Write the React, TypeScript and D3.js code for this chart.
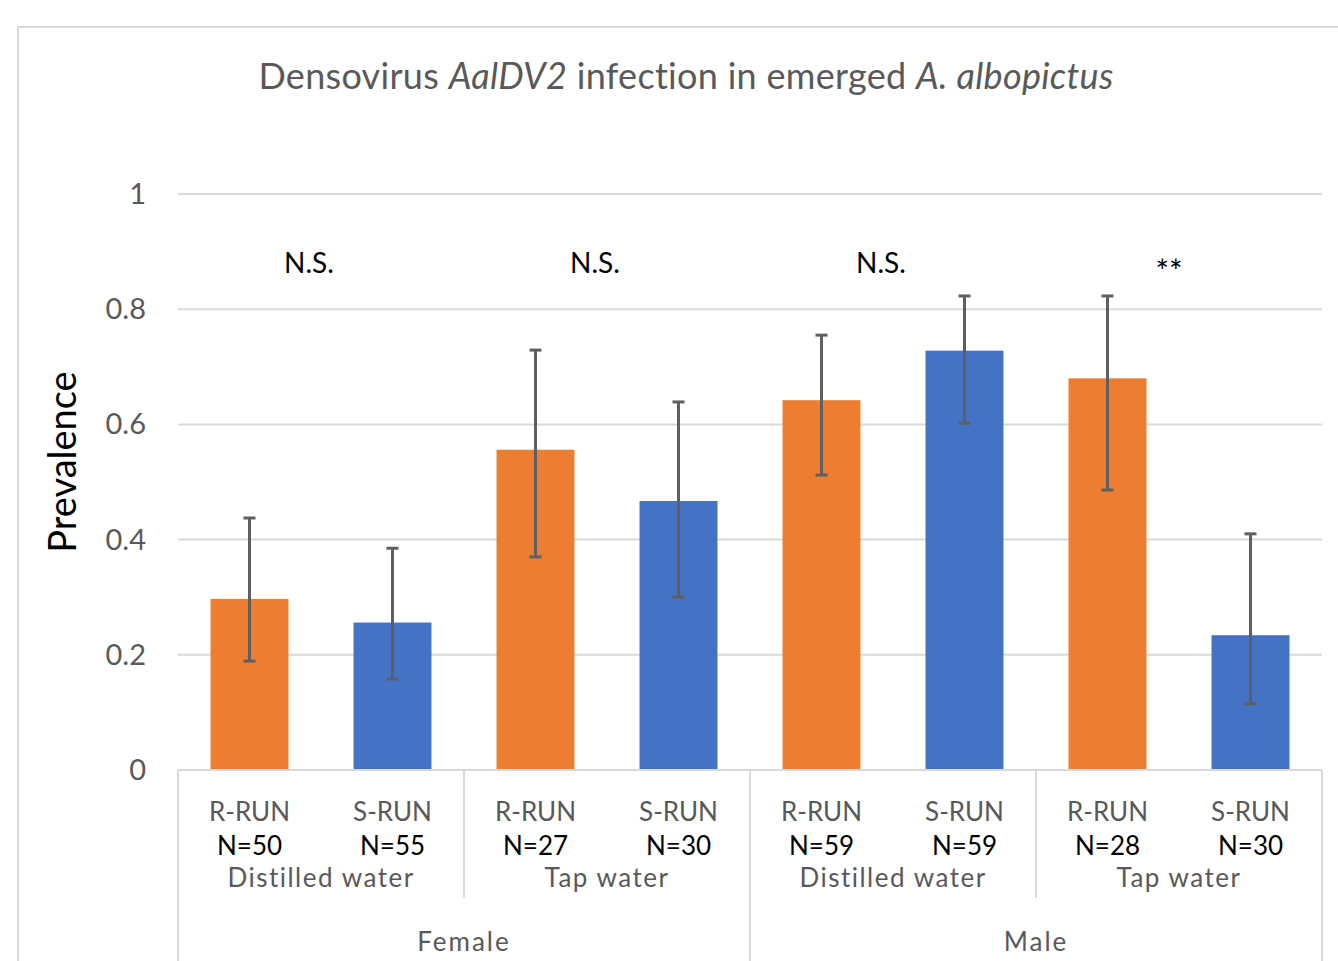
import React from "react";
import * as d3 from "d3";

const strains = ["R-RUN", "S-RUN", "R-RUN", "S-RUN", "R-RUN", "S-RUN", "R-RUN", "S-RUN"];
const sampleSizes = ["N=50", "N=55", "N=27", "N=30", "N=59", "N=59", "N=28", "N=30"];
const waterTypes = ["Distilled water", "Tap water", "Distilled water", "Tap water"];
const sexes = ["Female", "Male"];
const prevalence = [0.297, 0.256, 0.556, 0.467, 0.642, 0.728, 0.68, 0.234];
const ciLower = [0.189, 0.158, 0.37, 0.3, 0.512, 0.602, 0.486, 0.115];
const ciUpper = [0.4375, 0.385, 0.729, 0.639, 0.755, 0.823, 0.823, 0.41];
const significance = ["N.S.", "N.S.", "N.S.", "**"];
const yTicks = [0, 0.2, 0.4, 0.6, 0.8, 1];

const W = 1338;
const H = 961;
const FONT = "Lato, 'Open Sans', sans-serif";
const GRID = "#d9d9d9";
const TXT = "#595959";

export default function App() {
  const left = 178;
  const right = 1322;
  const y0 = 770;
  const y1 = 194;
  const idx = strains.map((_, i) => String(i));
  const x = d3.scaleBand<string>().domain(idx).range([left, right]).paddingInner(0.455).paddingOuter(0.2275);
  const y = d3.scaleLinear().domain([0, 1]).range([y0, y1]);
  const step = x.step();
  const color = (i: number) => (i % 2 === 0 ? "#ED7D31" : "#4472C4");
  const cx = (i: number) => (x(String(i)) as number) + x.bandwidth() / 2;

  return (
    <svg width={W} height={H} style={{ position: "absolute", left: 0, top: 0, display: "block", background: "#fff" }}>
      <rect x={18} y={27} width={W} height={H} fill="none" stroke={GRID} strokeWidth={2} />
      <text x={686} y={89} textAnchor="middle" fontFamily={FONT} fontSize={36} fill={TXT} letterSpacing={0.3}>
        Densovirus <tspan fontStyle="italic">AalDV2</tspan> infection in emerged <tspan fontStyle="italic">A. albopictus</tspan>
      </text>
      {yTicks.map((t) => (
        <g key={t}>
          <line x1={left} x2={right} y1={y(t)} y2={y(t)} stroke={GRID} strokeWidth={2} />
          <text x={146} y={y(t) + 10} textAnchor="end" fontFamily={FONT} fontSize={29} fill={TXT}>
            {d3.format("~g")(t)}
          </text>
        </g>
      ))}
      <text transform={`translate(76,${462}) rotate(-90)`} textAnchor="middle" fontFamily={FONT} fontSize={38} fill="#000">
        Prevalence
      </text>
      {prevalence.map((v, i) => (
        <rect key={i} x={x(String(i))} y={y(v)} width={x.bandwidth()} height={y(0) - y(v)} fill={color(i)} />
      ))}
      {prevalence.map((_, i) => (
        <g key={"e" + i} stroke="#5f5f5f" strokeWidth={3}>
          <line x1={cx(i)} x2={cx(i)} y1={y(ciUpper[i])} y2={y(ciLower[i])} />
          <line x1={cx(i) - 6} x2={cx(i) + 6} y1={y(ciUpper[i])} y2={y(ciUpper[i])} />
          <line x1={cx(i) - 6} x2={cx(i) + 6} y1={y(ciLower[i])} y2={y(ciLower[i])} />
        </g>
      ))}
      {significance.map((s, g) => (
        <text key={"s" + g} x={left + step * (2 * g + 1) - (s === "**" ? 10 : 12)} y={s === "**" ? 283 : 273} textAnchor="middle" fontFamily={FONT} fontSize={s === "**" ? 32 : 28} fill="#000">
          {s}
        </text>
      ))}
      <line x1={left} x2={right} y1={y0} y2={y0} stroke={GRID} strokeWidth={2} />
      {strains.map((s, i) => (
        <g key={"l" + i}>
          <text x={cx(i)} y={821} textAnchor="middle" fontFamily={FONT} fontSize={26} fill={TXT}>{s}</text>
          <text x={cx(i)} y={855} textAnchor="middle" fontFamily={FONT} fontSize={26} fill="#000">{sampleSizes[i]}</text>
        </g>
      ))}
      {waterTypes.map((w, g) => (
        <text key={"w" + g} x={left + step * (2 * g + 1)} y={887} textAnchor="middle" fontFamily={FONT} fontSize={26} fill={TXT} letterSpacing={1.5}>{w}</text>
      ))}
      {sexes.map((s, g) => (
        <text key={"x" + g} x={left + step * (4 * g + 2)} y={951} textAnchor="middle" fontFamily={FONT} fontSize={26} fill={TXT} letterSpacing={2}>{s}</text>
      ))}
      {[0, 1, 2, 3, 4].map((k) => (
        <line key={"v" + k} x1={left + step * 2 * k} x2={left + step * 2 * k} y1={y0} y2={k % 2 === 0 ? H : 898} stroke={GRID} strokeWidth={2} />
      ))}
    </svg>
  );
}
